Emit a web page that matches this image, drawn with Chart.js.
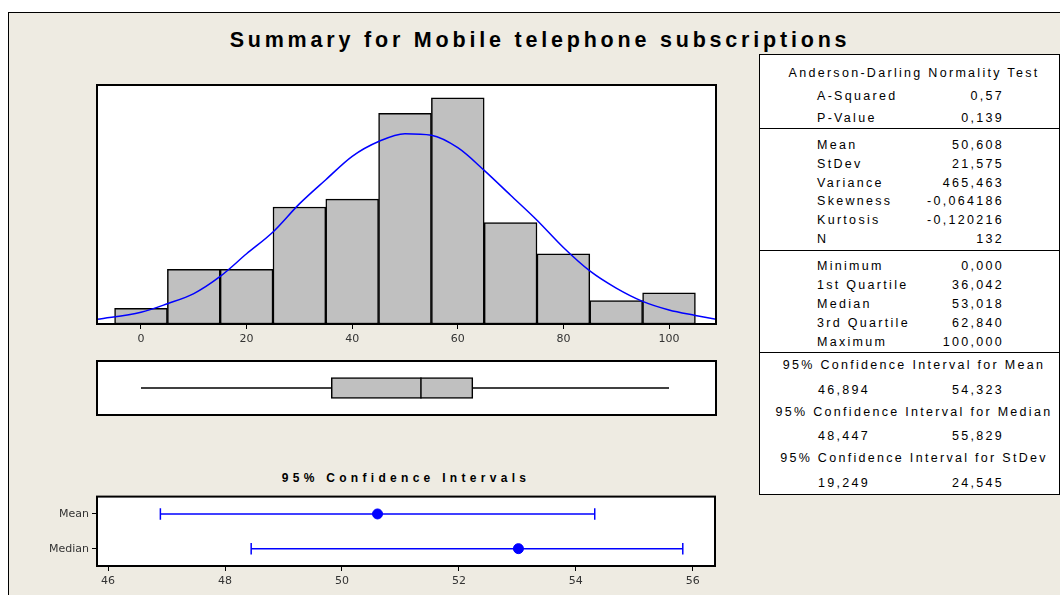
<!DOCTYPE html>
<html>
<head>
<meta charset="utf-8">
<script src="https://cdn.jsdelivr.net/npm/chart.js@4.4.1/dist/chart.umd.min.js"></script>
<style>
  html, body { margin: 0; padding: 0; width: 1060px; height: 595px; overflow: hidden; background: #fff; }
  #frame { position: absolute; left: 8px; top: 12px; width: 1100px; height: 700px; background: #EEEBE2; border: 1.5px solid #000; box-sizing: border-box; }
  canvas { position: absolute; }
  #title { position: absolute; left: 0; width: 1080px; top: 28px; text-align: center; font: bold 21.5px "Liberation Sans Narrow", "Liberation Sans", Arial, sans-serif; letter-spacing: 3.8px; color: #000; white-space: nowrap; }
  #ciTitle { position: absolute; left: 206px; width: 400px; top: 471px; text-align: center; font: bold 12px "Liberation Sans", Arial, sans-serif; letter-spacing: 4.3px; color: #000; }
  #stats { position: absolute; left: 759px; top: 54px; width: 301px; height: 441px; background: #fff; border: 1.5px solid #000; box-sizing: border-box; }
  .sep { position: absolute; left: 759px; width: 301px; height: 0; border-top: 1.5px solid #000; }
  .t { position: absolute; line-height: 16px; height: 16px; font: 12.5px "Liberation Sans", Arial, sans-serif; letter-spacing: 2.3px; color: #000; white-space: nowrap; }
</style>
</head>
<body>
<div id="frame"></div>
<div id="title">Summary for Mobile telephone subscriptions</div>
<canvas id="hist" width="640" height="270" style="left:87px; top:80px;"></canvas>
<canvas id="box" width="623" height="58" style="left:95px; top:359px;"></canvas>
<div id="ciTitle">95% Confidence Intervals</div>
<canvas id="ci" width="690" height="103" style="left:40px; top:487px;"></canvas>
<div id="stats"></div>
<div id="statsText"></div>
<script>
// histogram: bin centres (width 10) and counts
const histCenters = [0, 10, 20, 30, 40, 50, 60, 70, 80, 90, 100];
const histCounts = [2, 7, 7, 15, 16, 27, 29, 13, 9, 3, 4];
const histTicks = [0, 20, 40, 60, 80, 100];

// fitted normal curve (in counts)
const curveX = [-8.3, 0, 5, 10, 15, 20, 25, 30, 35, 40, 45, 50, 55, 60, 65, 70, 75, 80, 85, 90, 95, 100, 105, 108.9];
const curveY = [0.6, 1.5, 2.6, 3.9, 6.1, 9.0, 11.8, 15.4, 18.5, 21.5, 23.4, 24.4, 24.2, 22.6, 19.7, 16.5, 13.3, 9.8, 6.8, 4.6, 2.9, 1.8, 1.1, 0.6];

// boxplot: min, Q1, median, Q3, max
const boxStats = [0, 36.042, 53.018, 62.840, 100];

// confidence interval plot
const ciNames = ['Mean', 'Median'];
const ciCenter = [50.608, 53.018];
const ciLow = [46.894, 48.447];
const ciHigh = [54.323, 55.829];
const ciTicks = [46, 48, 50, 52, 54, 56];

// table on the right
const adLabels = ['A-Squared', 'P-Value'];
const adValues = ['0,57', '0,139'];
const descLabels = ['Mean', 'StDev', 'Variance', 'Skewness', 'Kurtosis', 'N'];
const descValues = ['50,608', '21,575', '465,463', '-0,064186', '-0,120216', '132'];
const quartLabels = ['Minimum', '1st Quartile', 'Median', '3rd Quartile', 'Maximum'];
const quartValues = ['0,000', '36,042', '53,018', '62,840', '100,000'];
const ciTableTitles = ['95% Confidence Interval for Mean', '95% Confidence Interval for Median', '95% Confidence Interval for StDev'];
const ciTableLow = ['46,894', '48,447', '19,249'];
const ciTableHigh = ['54,323', '55,829', '24,545'];

const HX = [-8.33, 108.9];   // shared x range of histogram and boxplot
const tickFont = { family: 'DejaVu Sans', size: 11 };

// white plot area with black frame
const panel = {
  id: 'panel',
  beforeDraw(chart) {
    const { ctx, chartArea: a } = chart;
    ctx.save();
    ctx.fillStyle = '#fff';
    ctx.fillRect(a.left, a.top, a.right - a.left, a.bottom - a.top);
    ctx.restore();
  },
  afterDraw(chart) {
    const { ctx, chartArea: a } = chart;
    ctx.save();
    ctx.strokeStyle = '#000';
    ctx.lineWidth = 2;
    ctx.strokeRect(a.left, a.top, a.right - a.left, a.bottom - a.top);
    ctx.restore();
  }
};

const fixedTicks = (list) => (scale) => { scale.ticks = list.map(v => ({ value: v })); };

Chart.defaults.animation = false;
Chart.defaults.responsive = false;
Chart.defaults.plugins.legend.display = false;
Chart.defaults.plugins.tooltip.enabled = false;

new Chart(document.getElementById('hist'), {
  type: 'bar',
  data: {
    datasets: [
      {
        type: 'line',
        data: curveX.map((x, i) => ({ x: x, y: curveY[i] })),
        borderColor: '#0000FF',
        borderWidth: 1.5,
        pointRadius: 0,
        cubicInterpolationMode: 'monotone',
        order: 0
      },
      {
        type: 'bar',
        data: histCenters.map((x, i) => ({ x: x, y: histCounts[i] })),
        backgroundColor: '#C0C0C0',
        borderColor: '#000',
        borderWidth: 1.5,
        borderSkipped: false,
        barPercentage: 1,
        categoryPercentage: 1,
        order: 1
      }
    ]
  },
  options: {
    layout: { padding: { left: 10, right: 11, top: 5, bottom: 0 } },
    scales: {
      x: {
        type: 'linear', min: HX[0], max: HX[1], offset: false,
        grid: { drawOnChartArea: false, offset: false, tickLength: 5, color: '#000' },
        border: { display: false },
        ticks: { font: tickFont, color: '#333', padding: 4 },
        afterBuildTicks: fixedTicks(histTicks),
        afterFit(s) { s.height = 26; }
      },
      y: { display: false, min: 0, max: 30.64 }
    }
  },
  plugins: [panel]
});

const medH = 0.39;
new Chart(document.getElementById('box'), {
  type: 'bar',
  data: {
    datasets: [
      {
        type: 'bar',
        indexAxis: 'y',
        data: [{ x: [boxStats[1], boxStats[3]], y: 0 }],
        backgroundColor: '#C0C0C0',
        borderColor: '#000',
        borderWidth: 1.5,
        borderSkipped: false,
        barThickness: 21,
        order: 2
      },
      { type: 'line', data: [{ x: boxStats[0], y: 0 }, { x: boxStats[1], y: 0 }], borderColor: '#000', borderWidth: 1.5, pointRadius: 0 },
      { type: 'line', data: [{ x: boxStats[3], y: 0 }, { x: boxStats[4], y: 0 }], borderColor: '#000', borderWidth: 1.5, pointRadius: 0 },
      { type: 'line', indexAxis: 'y', data: [{ x: boxStats[2], y: -medH }, { x: boxStats[2], y: medH }], borderColor: '#000', borderWidth: 1.5, pointRadius: 0 }
    ]
  },
  options: {
    layout: { padding: 2 },
    scales: {
      x: { type: 'linear', display: false, min: HX[0], max: HX[1], offset: false },
      y: { type: 'linear', display: false, min: -1, max: 1, offset: false }
    }
  },
  plugins: [panel]
});

// CI plot: positions 0.5 / 1.5 on a reversed 0..2 axis
const ciPos = ciNames.map((n, i) => i + 0.5);
const capH = 0.165;
const ciSets = [];
ciNames.forEach((n, i) => {
  const y = ciPos[i];
  ciSets.push({ type: 'line', data: [{ x: ciLow[i], y: y }, { x: ciHigh[i], y: y }], borderColor: '#0000FF', borderWidth: 1.5, pointRadius: 0 });
  ciSets.push({ type: 'line', data: [{ x: ciLow[i], y: y - capH }, { x: ciLow[i], y: y + capH }], borderColor: '#0000FF', borderWidth: 1.5, pointRadius: 0 });
  ciSets.push({ type: 'line', data: [{ x: ciHigh[i], y: y - capH }, { x: ciHigh[i], y: y + capH }], borderColor: '#0000FF', borderWidth: 1.5, pointRadius: 0 });
});
ciSets.push({
  type: 'scatter',
  data: ciCenter.map((x, i) => ({ x: x, y: ciPos[i] })),
  backgroundColor: '#0000FF', borderColor: '#0000FF', pointRadius: 5
});

new Chart(document.getElementById('ci'), {
  type: 'scatter',
  data: { datasets: ciSets },
  options: {
    layout: { padding: { left: 0, right: 15, top: 2, bottom: 0 } },
    scales: {
      x: {
        type: 'linear', min: 45.81, max: 56.38,
        grid: { drawOnChartArea: false, tickLength: 5, color: '#000' },
        border: { display: false },
        ticks: { font: tickFont, color: '#333', padding: 4 },
        afterBuildTicks: fixedTicks(ciTicks),
        afterFit(s) { s.height = 24; }
      },
      y: {
        type: 'linear', min: 0, max: 2, reverse: true,
        grid: { drawOnChartArea: false, tickLength: 5, color: '#000' },
        border: { display: false },
        ticks: { font: tickFont, color: '#333', padding: 3, callback: (v) => ciNames[ciPos.indexOf(v)] },
        afterBuildTicks: fixedTicks(ciPos),
        afterFit(s) { s.width = 57; }
      }
    }
  },
  plugins: [panel]
});

// stats table text
const holder = document.getElementById('statsText');
function addText(text, x, y, align) {
  const d = document.createElement('div');
  d.className = 't';
  d.textContent = text;
  d.style.left = x + 'px';
  d.style.top = (y - 8) + 'px';
  if (align === 'right') d.style.transform = 'translateX(-100%)';
  if (align === 'center') d.style.transform = 'translateX(-50%)';
  holder.appendChild(d);
}
function addSep(y) {
  const d = document.createElement('div');
  d.className = 'sep';
  d.style.top = y + 'px';
  holder.appendChild(d);
}
const LX = 817, RX = 1004, CX = 914;
addText('Anderson-Darling Normality Test', CX, 74, 'center');
adLabels.forEach((l, i) => { addText(l, LX, 97 + i * 22, 'left'); addText(adValues[i], RX, 97 + i * 22, 'right'); });
addSep(128);
descLabels.forEach((l, i) => { addText(l, LX, 146 + i * 18.8, 'left'); addText(descValues[i], RX, 146 + i * 18.8, 'right'); });
addSep(250);
quartLabels.forEach((l, i) => { addText(l, LX, 267 + i * 19.1, 'left'); addText(quartValues[i], RX, 267 + i * 19.1, 'right'); });
addSep(351.5);
ciTableTitles.forEach((t, i) => {
  const y = 366 + i * 46.7;
  addText(t, CX, y, 'center');
  addText(ciTableLow[i], 818, y + 24.5, 'left');
  addText(ciTableHigh[i], RX, y + 24.5, 'right');
});
</script>
</body>
</html>
